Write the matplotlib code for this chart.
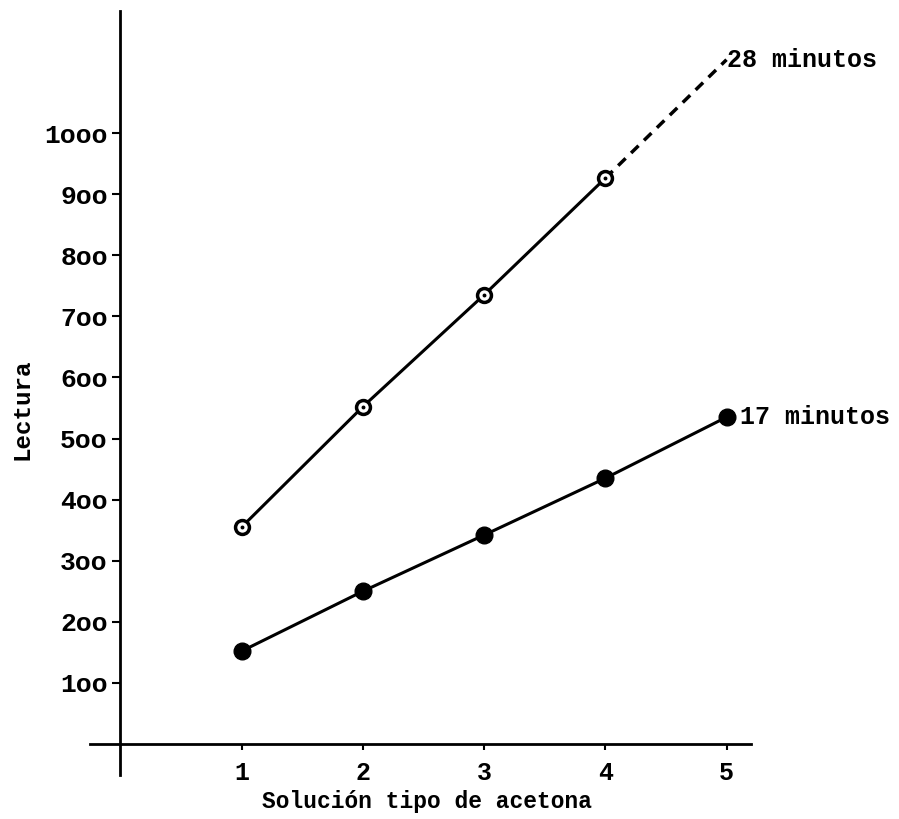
import matplotlib
matplotlib.use("Agg")
import matplotlib.pyplot as plt

solucion = [1, 2, 3, 4, 5]
lectura_28 = [355, 552, 735, 926]
lectura_28_ext = [926, 1120]
lectura_17 = [152, 250, 342, 435, 535]
yticks = [100, 200, 300, 400, 500, 600, 700, 800, 900, 1000]
ytick_labels = ["1oo", "2oo", "3oo", "4oo", "5oo", "6oo", "7oo", "8oo", "9oo", "1ooo"]

FONT = "Liberation Mono"

fig = plt.figure(figsize=(8.99, 8.19), dpi=100)
ax = fig.add_axes([0.1001, 0.0542, 0.735, 0.9326])
ax.set_xlim(-0.25, 5.2)
ax.set_ylim(-50, 1200)

for s in ["top", "right"]:
    ax.spines[s].set_visible(False)
ax.spines["left"].set_position(("data", 0))
ax.spines["bottom"].set_position(("data", 0))
ax.spines["left"].set_linewidth(2.0)
ax.spines["bottom"].set_linewidth(2.0)

# 28 minutos (open circles)
ax.plot(solucion[:4], lectura_28, color="black", lw=2.2, marker="o", ms=10,
        mfc="white", mec="black", mew=2.5, zorder=3)
ax.plot(solucion[:4], lectura_28, ls="none", marker="o", ms=1.8, color="black", zorder=4)
ax.plot(solucion[3:5], lectura_28_ext, color="black", lw=2.5, ls=(0, (3, 2.2)), zorder=2)

# 17 minutos (filled circles)
ax.plot(solucion, lectura_17, color="black", lw=2.2, marker="o", ms=12,
        mfc="black", mec="black", zorder=3)

ax.set_xticks(solucion)
ax.set_xticklabels([str(v) for v in solucion], fontfamily=FONT, fontweight="bold", fontsize=18)
ax.set_yticks(yticks)
ax.set_yticklabels(ytick_labels, fontfamily=FONT, fontweight="bold", fontsize=19)
ax.tick_params(axis="x", direction="out", length=4, width=1.5, pad=8)
ax.tick_params(axis="y", direction="out", length=6, width=1.5, pad=3)

ax.text(5.0, lectura_28_ext[1], "28 minutos", fontfamily=FONT, fontweight="bold",
        fontsize=18, ha="left", va="center")
ax.text(5.11, lectura_17[-1], "17 minutos", fontfamily=FONT, fontweight="bold",
        fontsize=18, ha="left", va="center")

fig.text(0.475, 0.021, "Solución tipo de acetona", fontfamily=FONT, fontweight="bold",
         fontsize=16.5, ha="center", va="center")
fig.text(0.024, 0.5, "Lectura", fontfamily=FONT, fontweight="bold",
         fontsize=17.5, ha="center", va="center", rotation=90)

fig.savefig("out.png", dpi=100)
